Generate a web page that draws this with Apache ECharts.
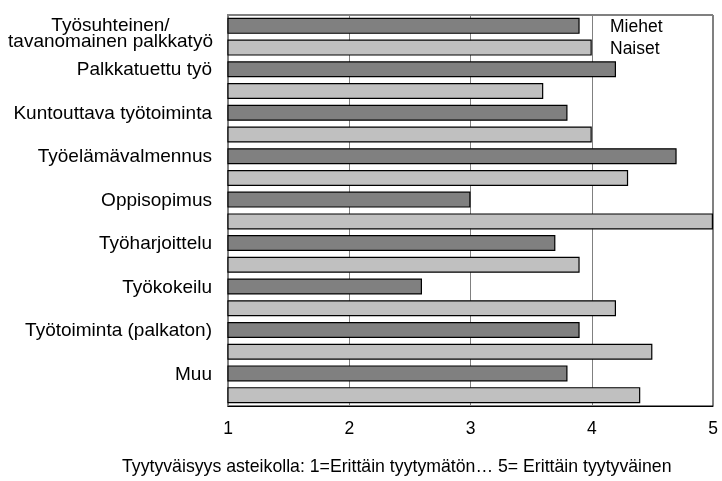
<!DOCTYPE html>
<html>
<head>
<meta charset="utf-8">
<script src="https://cdn.jsdelivr.net/npm/echarts@6/dist/echarts.min.js"></script>
<style>html,body{margin:0;padding:0;background:#fff}#c{width:722px;height:481px}</style>
</head>
<body>
<div id="c"></div>
<script>
const categories = [
  'Työsuhteinen/\ntavanomainen palkkatyö',
  'Palkkatuettu työ',
  'Kuntouttava työtoiminta',
  'Työelämävalmennus',
  'Oppisopimus',
  'Työharjoittelu',
  'Työkokeilu',
  'Työtoiminta (palkaton)',
  'Muu'
];
const seriesNames = ['Miehet', 'Naiset'];
const miehet = [3.9, 4.2, 3.8, 4.7, 3.0, 3.7, 2.6, 3.9, 3.8];
const naiset = [4.0, 3.6, 4.0, 4.3, 5.0, 3.9, 4.2, 4.5, 4.4];
const xTicks = [1, 2, 3, 4, 5];
const axisTitle = 'Tyytyväisyys asteikolla: 1=Erittäin tyytymätön… 5= Erittäin tyytyväinen';

const FONT = 'Liberation Sans, Arial, sans-serif';
const chart = echarts.init(document.getElementById('c'));

chart.setOption({
  animation: false,
  backgroundColor: '#fff',
  textStyle: { fontFamily: FONT },
  title: {
    text: axisTitle,
    left: 122,
    top: 458,
    padding: 0,
    textStyle: { fontSize: 17.7, fontWeight: 'normal', color: '#000', fontFamily: FONT }
  },
  legend: {
    orient: 'vertical',
    left: 609,
    top: 17,
    padding: 0,
    itemWidth: 0,
    itemHeight: 0,
    itemGap: 2,
    icon: 'rect',
    textStyle: { fontSize: 17.5, color: '#000', fontFamily: FONT, padding: [0, 0, 0, -5], lineHeight: 20 },
    data: seriesNames
  },
  grid: { left: 228, right: 9, top: 15, bottom: 75, outerBoundsMode: 'none',
    show: true, borderColor: '#000', borderWidth: 1 },
  graphic: [{
    type: 'line', shape: { x1: 227, y1: 15, x2: 713, y2: 15 },
    style: { stroke: '#808080', lineWidth: 2 }, z: 100
  }],
  xAxis: {
    type: 'value',
    min: xTicks[0],
    max: xTicks[xTicks.length - 1],
    interval: 1,
    axisLine: { show: true, lineStyle: { color: '#000', width: 1 } },
    axisTick: { show: true, inside: true, length: 3, lineStyle: { color: '#808080' } },
    axisLabel: { fontSize: 17.5, color: '#000', margin: 14, fontFamily: FONT },
    splitLine: { show: true, lineStyle: { color: '#808080', width: 1 } }
  },
  yAxis: {
    type: 'category',
    inverse: true,
    data: categories,
    axisLine: { show: true, lineStyle: { color: '#808080', width: 2 } },
    axisTick: { show: false },
    axisLabel: {
      fontSize: 19, color: '#000', margin: 16, fontFamily: FONT, align: 'right',
      interval: 0,
      formatter: function (v) {
        if (v.indexOf('\n') >= 0) {
          const ls = v.split('\n');
          return '{c|' + ls[0] + '}\n{d|' + ls[1] + '}';
        }
        return '{s|' + v + '}';
      },
      rich: {
        c: { fontSize: 19, width: 203, align: 'center', lineHeight: 22, fontFamily: FONT, color: '#000' },
        d: { fontSize: 19, width: 203, align: 'center', lineHeight: 22, fontFamily: FONT, color: '#000', padding: [0, 0, 12, 0] },
        s: { fontSize: 19, fontFamily: FONT, color: '#000', lineHeight: 22, padding: [0, 0, 20, 0] }
      }
    }
  },
  series: [
    { name: seriesNames[0], type: 'bar', data: miehet, barWidth: 16, barGap: '36%',
      itemStyle: { color: '#808080', borderColor: '#000', borderWidth: 1.2 } },
    { name: seriesNames[1], type: 'bar', data: naiset, barWidth: 16, barGap: '36%',
      itemStyle: { color: '#c0c0c0', borderColor: '#000', borderWidth: 1.2 } }
  ]
});
</script>
</body>
</html>
